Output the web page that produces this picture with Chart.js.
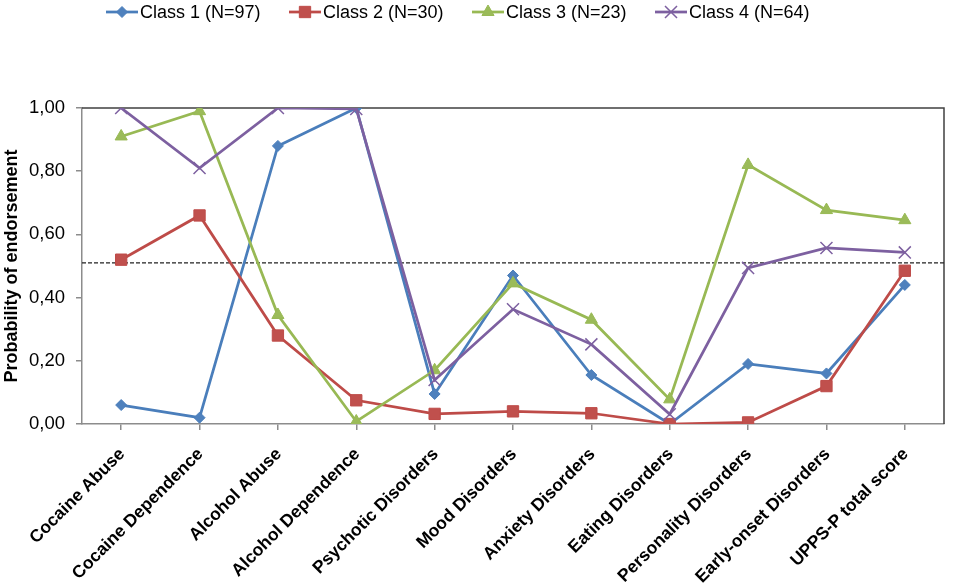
<!DOCTYPE html>
<html lang="en">
<head>
<meta charset="UTF-8">
<title>Probability of endorsement by class</title>
<script src="https://cdn.jsdelivr.net/npm/chart.js@4.4.1/dist/chart.umd.min.js"></script>
<style>
  html, body { margin: 0; padding: 0; background: #fff; }
  #wrap { width: 954px; height: 587px; }
</style>
</head>
<body>
<div id="wrap"><canvas id="classChart" width="954" height="587"></canvas></div>

<script>
    // data
    const categories = ['Cocaine Abuse', 'Cocaine Dependence', 'Alcohol Abuse', 'Alcohol Dependence',
        'Psychotic Disorders', 'Mood Disorders', 'Anxiety Disorders', 'Eating Disorders',
        'Personality Disorders', 'Early-onset Disorders', 'UPPS-P total score'];
    const seriesNames = ['Class 1 (N=97)', 'Class 2 (N=30)', 'Class 3 (N=23)', 'Class 4 (N=64)'];
    const class1 = [0.06, 0.02, 0.88, 1.00, 0.095, 0.47, 0.155, 0.00, 0.19, 0.16, 0.44];
    const class2 = [0.52, 0.66, 0.28, 0.075, 0.032, 0.04, 0.034, 0.00, 0.005, 0.12, 0.485];
    const class3 = [0.91, 0.99, 0.345, 0.008, 0.17, 0.445, 0.33, 0.078, 0.82, 0.677, 0.645];
    const class4 = [1.00, 0.81, 1.00, 0.997, 0.139, 0.363, 0.252, 0.031, 0.494, 0.557, 0.543];
    const yTicks = [0, 0.2, 0.4, 0.6, 0.8, 1.0];
    const cutoff = 0.51;

    const font = "'Liberation Sans', Arial, sans-serif";
    Chart.defaults.font.family = font;
    Chart.defaults.color = '#000';

    function series(label, data, line, fill, style, radius, bw, order) {
        return {
            label: label,
            data: data,
            borderColor: line,
            backgroundColor: fill,
            borderWidth: 2.75,
            pointStyle: style,
            pointRadius: radius,
            pointBackgroundColor: fill,
            pointBorderColor: line,
            pointBorderWidth: bw,
            tension: 0,
            order: order
        };
    }

    // dashed cut-off line plus the dark top/right frame of the plot box
    const frameLines = {
        id: 'frameLines',
        beforeDatasetsDraw(chart) {
            const ctx = chart.ctx;
            const a = chart.chartArea;
            const y = chart.scales.y.getPixelForValue(cutoff);
            ctx.save();
            ctx.strokeStyle = '#404040';
            ctx.lineWidth = 1.5;
            ctx.beginPath();
            ctx.moveTo(a.left, a.top);
            ctx.lineTo(a.right, a.top);
            ctx.lineTo(a.right, a.bottom);
            ctx.stroke();
            ctx.strokeStyle = '#222';
            ctx.lineWidth = 1.2;
            ctx.setLineDash([4, 2]);
            ctx.beginPath();
            ctx.moveTo(a.left, y);
            ctx.lineTo(a.right, y);
            ctx.stroke();
            ctx.restore();
        }
    };

    // Excel-style legend: short line with the marker on it
    const lineLegend = {
        id: 'lineLegend',
        afterDraw(chart, args, opts) {
            const ctx = chart.ctx;
            chart.data.datasets.forEach((ds, i) => {
                const x0 = opts.startX + i * opts.step;
                const y = opts.y;
                ctx.save();
                ctx.strokeStyle = ds.borderColor;
                ctx.lineWidth = 2.75;
                ctx.beginPath();
                ctx.moveTo(x0, y);
                ctx.lineTo(x0 + opts.lineLen, y);
                ctx.stroke();
                ctx.fillStyle = ds.pointBackgroundColor;
                ctx.strokeStyle = ds.pointBorderColor;
                ctx.lineWidth = ds.pointBorderWidth;
                Chart.helpers.drawPoint(ctx, {
                    pointStyle: ds.pointStyle,
                    radius: ds.pointRadius,
                    rotation: 0,
                    borderWidth: ds.pointBorderWidth
                }, x0 + opts.lineLen / 2, y);
                ctx.fillStyle = '#000';
                ctx.font = opts.fontSize + 'px ' + font;
                ctx.textBaseline = 'middle';
                ctx.textAlign = 'left';
                ctx.fillText(ds.label, x0 + opts.lineLen + 2, y + 1);
                ctx.restore();
            });
        }
    };

    const ctx = document.getElementById('classChart').getContext('2d');
    const classChart = new Chart(ctx, {
        type: 'line',
        data: {
            labels: categories,
            datasets: [
                series(seriesNames[0], class1, '#4A7EBB', '#4F81BD', 'rectRot', 5.5, 1, 4),
                series(seriesNames[1], class2, '#BE4B48', '#C0504D', 'rect', 8, 1, 3),
                series(seriesNames[2], class3, '#98B954', '#9BBB59', 'triangle', 7, 1, 2),
                series(seriesNames[3], class4, '#7D60A0', '#8064A2', 'crossRot', 8.5, 1.5, 1)
            ]
        },
        options: {
            responsive: false,
            animation: false,
            layout: {
                padding: { top: 108, left: 0, right: 2.5, bottom: 0 }
            },
            plugins: {
                legend: { display: false },
                tooltip: { enabled: false },
                lineLegend: { startX: 106, step: 183, y: 12, lineLen: 32, fontSize: 18 }
            },
            scales: {
                x: {
                    type: 'category',
                    offset: true,
                    grid: {
                        display: true,
                        drawOnChartArea: false,
                        drawTicks: true,
                        tickLength: 6,
                        color: '#8c8c8c',
                        lineWidth: 1.5
                    },
                    border: { color: '#8c8c8c', width: 1.5 },
                    ticks: {
                        autoSkip: false,
                        minRotation: 45,
                        maxRotation: 45,
                        padding: 14,
                        labelOffset: 1,
                        color: '#000',
                        font: { size: 17.5, weight: 'bold' }
                    },
                    afterFit(scale) { scale.height = 163; }
                },
                y: {
                    min: 0,
                    max: 1,
                    grid: {
                        display: true,
                        drawOnChartArea: false,
                        drawTicks: true,
                        tickLength: 6,
                        color: '#8c8c8c',
                        lineWidth: 1.5
                    },
                    border: { color: '#8c8c8c', width: 1.5 },
                    afterBuildTicks(scale) {
                        scale.ticks = yTicks.map(v => ({ value: v }));
                    },
                    ticks: {
                        padding: 11,
                        color: '#000',
                        font: { size: 18.5 },
                        callback: v => v.toFixed(2).replace('.', ',')
                    },
                    title: {
                        display: true,
                        text: 'Probability of endorsement',
                        color: '#000',
                        font: { size: 18, weight: 'bold' },
                        padding: { top: 1, bottom: 0 }
                    },
                    afterFit(scale) { scale.width = 82; }
                }
            }
        },
        plugins: [frameLines, lineLegend]
    });
</script>
</body>
</html>
